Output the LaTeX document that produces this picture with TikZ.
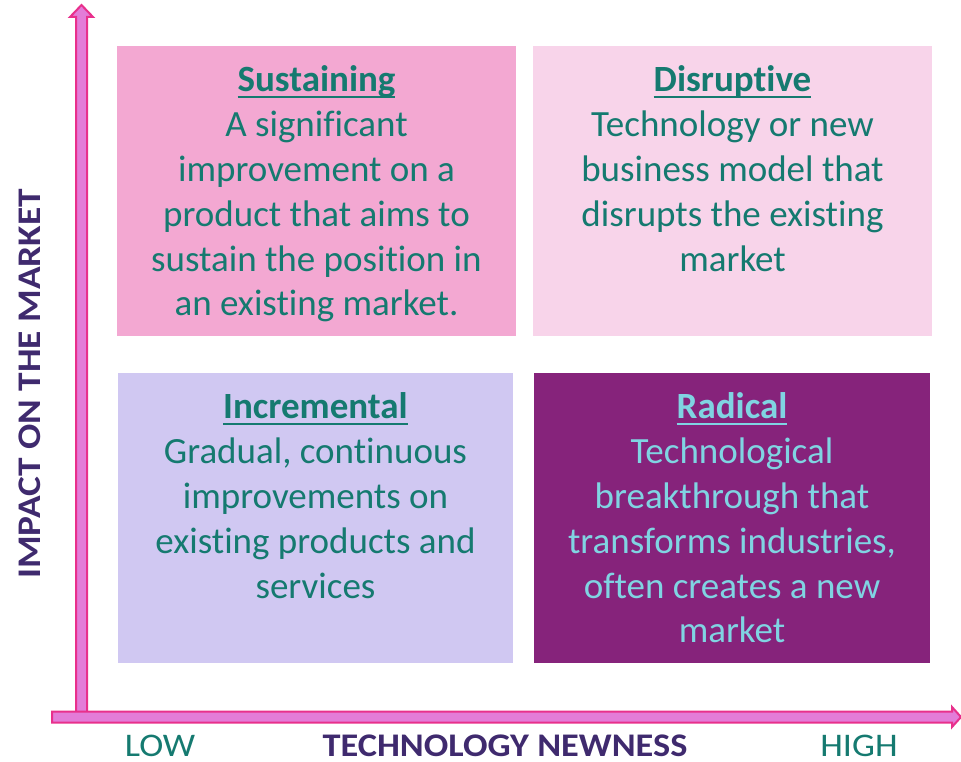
\documentclass[tikz,border=0pt]{standalone}
\usepackage{fontspec}
\setmainfont{Carlito}[Ligatures=NoCommon]
\usepackage{tikz}
\usetikzlibrary{positioning,calc}

\definecolor{axisline}{HTML}{E8308C}
\definecolor{axisfill}{HTML}{E37CD8}
\definecolor{sustfill}{HTML}{F3A8D2}
\definecolor{disrfill}{HTML}{F8D4EA}
\definecolor{incrfill}{HTML}{D0C8F2}
\definecolor{radfill}{HTML}{86237B}
\definecolor{tealtext}{HTML}{157A70}
\definecolor{radtext}{HTML}{80D4E2}
\definecolor{axislabel}{HTML}{3F2A6E}

\newcommand{\quadtitle}[1]{\setbox0\hbox{\bfseries #1}\rlap{\vrule height -4pt depth 6.5pt width \wd0}\box0}

\begin{document}
\begin{tikzpicture}[x=1pt, y=-1pt,
    quad/.style={draw=none, inner sep=0pt, minimum height=290pt},
    quadtext/.style={align=center, inner sep=0pt, text=tealtext,
        font=\fontsize{37}{44.8}\selectfont},
    axistext/.style={inner sep=0pt, xscale=1.1, transform shape,
        font=\fontsize{33}{36}\selectfont},
    axisarrow/.style={draw=axisline, fill=axisfill, line width=2pt, line join=miter}
    ]
    \useasboundingbox (0,0) rectangle (961,762);
    \node[quad, fill=sustfill, minimum width=399pt] (sust) at (316.5,191) {};
    \node[quad, fill=disrfill, minimum width=399pt] (disr) at (732.5,191) {};
    \node[quad, fill=incrfill, minimum width=395pt] (incr) at (315.5,518) {};
    \node[quad, fill=radfill, minimum width=396pt] (rad) at (732,518) {};
    \node[quadtext, below=20pt of sust.north] (susttext) {\quadtitle{Sustaining}\\
        A significant\\ improvement on a\\ product that aims to\\
        sustain the position in\\ an existing market.};
    \node[quadtext, below=20pt of disr.north] (disrtext) {\quadtitle{Disruptive}\\
        Technology or new\\ business model that\\ disrupts the existing\\ market};
    \node[quadtext, below=20pt of incr.north] (incrtext) {\quadtitle{Incremental}\\
        Gradual, continuous\\ improvements on\\ existing products and\\ services};
    \node[quadtext, text=radtext, below=20pt of rad.north] (radtext) {\quadtitle{Radical}\\
        Technological\\ breakthrough that\\ transforms industries,\\
        often creates a new\\ market};
    \coordinate (origin) at (81.5,717);
    \coordinate (ytip) at (81.5,5);
    \coordinate (xtip) at (961,717);
    \draw[axisarrow] ($(origin)+(-5.5,0)$) -- ++(0,-700) -- ++(-6,0)
        -- (ytip) -- ++(11.5,12) -- ++(-6,0) -- ++(0,700) -- cycle;
    \draw[axisarrow] (52,711.5) -- (952,711.5) -- (952,707) -- (xtip)
        -- (952,727) -- (952,722.5) -- (52,722.5) -- cycle;
    \node[axistext, text=tealtext, anchor=base, text depth=0pt] (low) at (160,756) {LOW};
    \node[axistext, text=tealtext, anchor=base, text depth=0pt] (high) at (859,756) {HIGH};
    \node[axistext, text=axislabel, anchor=base, text depth=0pt, font=\fontsize{33}{36}\selectfont\bfseries] (xlabel) at (505,756) {TECHNOLOGY NEWNESS};
    \node[rotate=90, axistext, xscale=1.03, text=axislabel, font=\fontsize{33}{36}\selectfont\bfseries] (ylabel) at (30,384) {IMPACT ON THE MARKET};
\end{tikzpicture}
\end{document}
